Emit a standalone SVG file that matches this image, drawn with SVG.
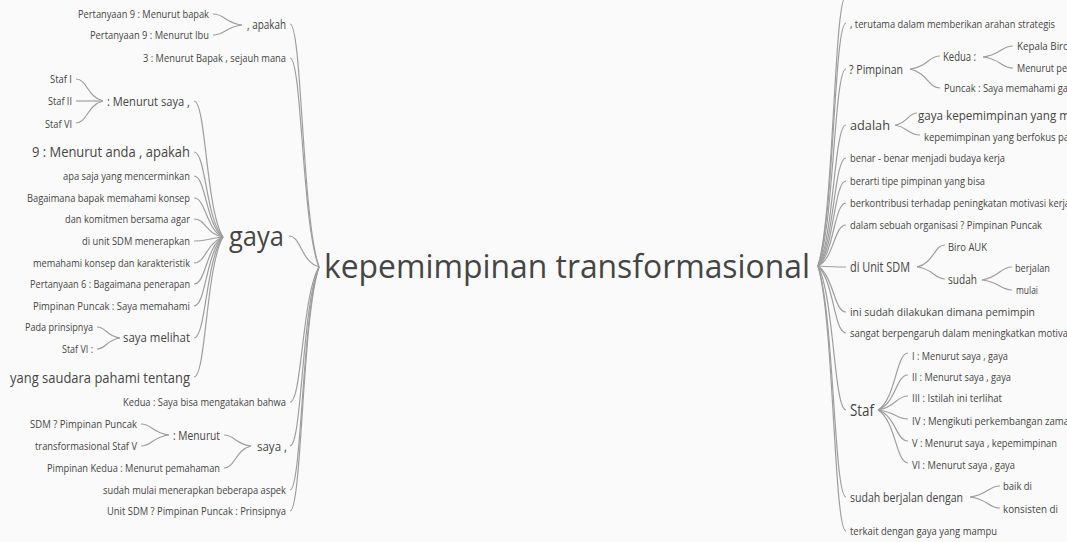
<svg xmlns="http://www.w3.org/2000/svg" width="1067" height="542" viewBox="0 0 1067 542">
<style>
.t{font-family:"Open Sans","Noto Sans",sans-serif;fill:#454545}
.e{text-anchor:end}
.s11{font-size:11px}.s12{font-size:12px}.s13{font-size:13px}.s14{font-size:14px}.s15{font-size:15px}.s16{font-size:16px}
.c{fill:none;stroke:#9e9e9e;stroke-width:1.2}
</style>
<rect width="1067" height="542" fill="#fafafa"/>
<g id="connectors">
<!-- left root -->
<path class="c" d="M319,267 C302,219 302,24 290,24"/>
<path class="c" d="M319,267 C302,226 302,58 290,58"/>
<path class="c" d="M319,267 C301,262 301,236 289,236"/>
<path class="c" d="M319,267 C302,295 302,402 290,402"/>
<path class="c" d="M319,267 C302,304 302,446 290,446"/>
<path class="c" d="M319,267 C302,312 302,490 290,490"/>
<path class="c" d="M319,267 C302,317 302,511 290,511"/>
<!-- gaya -->
<path class="c" d="M223,237 C206,211 206,101 194,101"/>
<path class="c" d="M223,237 C206,221 206,152 194,152"/>
<path class="c" d="M223,237 C206,226 206,176 194,176"/>
<path class="c" d="M223,237 C206,230 206,198 194,198"/>
<path class="c" d="M223,237 C206,234 206,219 194,219"/>
<path class="c" d="M223,237 C206,239 206,241 194,241"/>
<path class="c" d="M223,237 C206,243 206,263 194,263"/>
<path class="c" d="M223,237 C206,247 206,284 194,284"/>
<path class="c" d="M223,237 C206,252 206,306 194,306"/>
<path class="c" d="M223,237 C206,258 206,338 194,338"/>
<path class="c" d="M223,237 C206,266 206,377 194,377"/>
<!-- , apakah -->
<path class="c" d="M242,25 C225,23 225,14 213,14"/>
<path class="c" d="M242,25 C225,27 225,35 213,35"/>
<!-- : Menurut saya , -->
<path class="c" d="M103,101 C87,97 87,79 76,79"/>
<path class="c" d="M103,101 L76,101"/>
<path class="c" d="M103,101 C87,105 87,123 76,123"/>
<!-- saya melihat -->
<path class="c" d="M120,338 C106,336 106,327 97,327"/>
<path class="c" d="M120,338 C106,340 106,349 97,349"/>
<!-- saya , -->
<path class="c" d="M251,446 C235,444 235,435 224,435"/>
<path class="c" d="M251,446 C235,450 235,468 224,468"/>
<!-- : Menurut -->
<path class="c" d="M169,435 C152,433 152,424 141,424"/>
<path class="c" d="M169,435 C152,437 152,446 141,446"/>
<!-- right root -->
<path class="c" d="M818,266 C834,214 834,-4 846,-4"/>
<path class="c" d="M818,266 C834,219 834,23 846,23"/>
<path class="c" d="M818,266 C834,228 834,69 846,69"/>
<path class="c" d="M818,266 C834,239 834,125 846,125"/>
<path class="c" d="M818,266 C834,246 834,158 846,158"/>
<path class="c" d="M818,266 C834,251 834,181 846,181"/>
<path class="c" d="M818,266 C834,255 834,203 846,203"/>
<path class="c" d="M818,266 C834,259 834,225 846,225"/>
<path class="c" d="M818,266 C834,267 834,267 846,267"/>
<path class="c" d="M818,266 C834,277 834,312 846,312"/>
<path class="c" d="M818,266 C834,281 834,333 846,333"/>
<path class="c" d="M818,266 C834,296 834,410 846,410"/>
<path class="c" d="M818,266 C834,314 834,497 846,497"/>
<path class="c" d="M818,266 C834,321 834,531 846,531"/>
<!-- ? Pimpinan -->
<path class="c" d="M910,69 C928,67 928,56 940,56"/>
<path class="c" d="M910,69 C928,73 928,88 940,88"/>
<!-- Kedua : -->
<path class="c" d="M983,57 C1001,55 1001,46 1013,46"/>
<path class="c" d="M983,57 C1001,59 1001,68 1013,68"/>
<!-- adalah -->
<path class="c" d="M895,125 C908,123 908,113 917,113"/>
<path class="c" d="M895,125 C908,127 908,135 920,135"/>
<!-- di Unit SDM -->
<path class="c" d="M917,267 C934,263 934,245 945,245"/>
<path class="c" d="M917,267 C934,269 934,279 945,279"/>
<!-- sudah -->
<path class="c" d="M982,280 C1000,277 1000,267 1012,267"/>
<path class="c" d="M982,280 C1000,282 1000,290 1012,290"/>
<!-- Staf -->
<path class="c" d="M878,410 C896,399 896,353 908,353"/>
<path class="c" d="M878,410 C896,403 896,375 908,375"/>
<path class="c" d="M878,410 C896,407 896,396 908,396"/>
<path class="c" d="M878,410 C896,412 896,419 908,419"/>
<path class="c" d="M878,410 C896,416 896,441 908,441"/>
<path class="c" d="M878,410 C896,421 896,463 908,463"/>
<!-- sudah berjalan dengan -->
<path class="c" d="M970,497 C988,495 988,486 1000,486"/>
<path class="c" d="M970,497 C988,499 988,508 1000,508"/>
</g>
<g id="root"><text class="t" x="324" y="278" font-size="32" textLength="486" lengthAdjust="spacingAndGlyphs" fill="#3a3a3a">kepemimpinan transformasional</text></g>
<!-- left side -->
<g id="n-apakah"><text class="t e s12" x="286" y="29" textLength="39" lengthAdjust="spacingAndGlyphs">, apakah</text></g>
<g id="n-p9-bapak"><text class="t e s11" x="209" y="18" textLength="131" lengthAdjust="spacingAndGlyphs">Pertanyaan 9 : Menurut bapak</text></g>
<g id="n-p9-ibu"><text class="t e s11" x="209" y="39" textLength="119" lengthAdjust="spacingAndGlyphs">Pertanyaan 9 : Menurut Ibu</text></g>
<g id="n-sejauh"><text class="t e s11" x="286" y="62" textLength="143" lengthAdjust="spacingAndGlyphs">3 : Menurut Bapak , sejauh mana</text></g>
<g id="n-staf1"><text class="t e s11" x="72" y="83" textLength="22" lengthAdjust="spacingAndGlyphs">Staf I</text></g>
<g id="n-staf2"><text class="t e s11" x="72" y="105" textLength="24" lengthAdjust="spacingAndGlyphs">Staf II</text></g>
<g id="n-staf6"><text class="t e s11" x="72" y="128" textLength="27" lengthAdjust="spacingAndGlyphs">Staf VI</text></g>
<g id="n-menurut-saya"><text class="t e s13" x="190" y="106" textLength="83" lengthAdjust="spacingAndGlyphs">: Menurut saya ,</text></g>
<g id="n-gaya"><text class="t e" x="284" y="246" font-size="28" textLength="55" lengthAdjust="spacingAndGlyphs">gaya</text></g>
<g id="n-anda"><text class="t e s15" x="190" y="157" textLength="158" lengthAdjust="spacingAndGlyphs">9 : Menurut anda , apakah</text></g>
<g id="n-apa-saja"><text class="t e s11" x="190" y="180" textLength="127" lengthAdjust="spacingAndGlyphs">apa saja yang mencerminkan</text></g>
<g id="n-bagaimana"><text class="t e s11" x="190" y="202" textLength="163" lengthAdjust="spacingAndGlyphs">Bagaimana bapak memahami konsep</text></g>
<g id="n-komitmen"><text class="t e s11" x="190" y="223" textLength="125" lengthAdjust="spacingAndGlyphs">dan komitmen bersama agar</text></g>
<g id="n-unit-sdm"><text class="t e s11" x="190" y="245" textLength="108" lengthAdjust="spacingAndGlyphs">di unit SDM menerapkan</text></g>
<g id="n-memahami"><text class="t e s11" x="190" y="267" textLength="157" lengthAdjust="spacingAndGlyphs">memahami konsep dan karakteristik</text></g>
<g id="n-p6"><text class="t e s11" x="190" y="288" textLength="160" lengthAdjust="spacingAndGlyphs">Pertanyaan 6 : Bagaimana penerapan</text></g>
<g id="n-pp-saya"><text class="t e s11" x="190" y="310" textLength="157" lengthAdjust="spacingAndGlyphs">Pimpinan Puncak : Saya memahami</text></g>
<g id="n-saya-melihat"><text class="t e s12" x="190" y="342" textLength="67" lengthAdjust="spacingAndGlyphs">saya melihat</text></g>
<g id="n-pada"><text class="t e s11" x="93" y="331" textLength="68" lengthAdjust="spacingAndGlyphs">Pada prinsipnya</text></g>
<g id="n-staf6b"><text class="t e s11" x="93" y="353" textLength="31" lengthAdjust="spacingAndGlyphs">Staf VI :</text></g>
<g id="n-saudara"><text class="t e s15" x="190" y="383" textLength="180" lengthAdjust="spacingAndGlyphs">yang saudara pahami tentang</text></g>
<g id="n-kedua-bahwa"><text class="t e s11" x="286" y="406" textLength="163" lengthAdjust="spacingAndGlyphs">Kedua : Saya bisa mengatakan bahwa</text></g>
<g id="n-saya-c"><text class="t e s13" x="287" y="451" textLength="30" lengthAdjust="spacingAndGlyphs">saya ,</text></g>
<g id="n-menurut"><text class="t e s12" x="220" y="440" textLength="47" lengthAdjust="spacingAndGlyphs">: Menurut</text></g>
<g id="n-sdm-pp"><text class="t e s11" x="137" y="428" textLength="107" lengthAdjust="spacingAndGlyphs">SDM ? Pimpinan Puncak</text></g>
<g id="n-staf5"><text class="t e s11" x="137" y="450" textLength="102" lengthAdjust="spacingAndGlyphs">transformasional Staf V</text></g>
<g id="n-pk"><text class="t e s11" x="220" y="472" textLength="173" lengthAdjust="spacingAndGlyphs">Pimpinan Kedua : Menurut pemahaman</text></g>
<g id="n-aspek"><text class="t e s11" x="286" y="494" textLength="183" lengthAdjust="spacingAndGlyphs">sudah mulai menerapkan beberapa aspek</text></g>
<g id="n-prinsipnya"><text class="t e s11" x="286" y="515" textLength="179" lengthAdjust="spacingAndGlyphs">Unit SDM ? Pimpinan Puncak : Prinsipnya</text></g>
<!-- right side -->
<g id="n-terutama"><text class="t s11" x="850" y="28" textLength="205" lengthAdjust="spacingAndGlyphs">, terutama dalam memberikan arahan strategis</text></g>
<g id="n-pimpinan"><text class="t s13" x="849" y="74" textLength="54" lengthAdjust="spacingAndGlyphs">? Pimpinan</text></g>
<g id="n-kedua"><text class="t s12" x="943" y="61" textLength="33" lengthAdjust="spacingAndGlyphs">Kedua :</text></g>
<g id="n-kepala"><text class="t s11" x="1017" y="50" textLength="52" lengthAdjust="spacingAndGlyphs">Kepala Biro</text></g>
<g id="n-menurut-pe"><text class="t s11" x="1017" y="72" textLength="50" lengthAdjust="spacingAndGlyphs">Menurut pe</text></g>
<g id="n-puncak"><text class="t s11" x="944" y="92" textLength="124" lengthAdjust="spacingAndGlyphs">Puncak : Saya memahami ga</text></g>
<g id="n-adalah"><text class="t s13" x="850" y="130" textLength="40" lengthAdjust="spacingAndGlyphs">adalah</text></g>
<g id="n-gaya-kep"><text class="t s13" x="918" y="120" textLength="152" lengthAdjust="spacingAndGlyphs">gaya kepemimpinan yang m</text></g>
<g id="n-berfokus"><text class="t s11" x="924" y="141" textLength="145" lengthAdjust="spacingAndGlyphs">kepemimpinan yang berfokus pa</text></g>
<g id="n-budaya"><text class="t s11" x="850" y="162" textLength="155" lengthAdjust="spacingAndGlyphs">benar - benar menjadi budaya kerja</text></g>
<g id="n-berarti"><text class="t s11" x="850" y="185" textLength="135" lengthAdjust="spacingAndGlyphs">berarti tipe pimpinan yang bisa</text></g>
<g id="n-kontribusi"><text class="t s11" x="850" y="207" textLength="220" lengthAdjust="spacingAndGlyphs">berkontribusi terhadap peningkatan motivasi kerja</text></g>
<g id="n-organisasi"><text class="t s11" x="850" y="229" textLength="192" lengthAdjust="spacingAndGlyphs">dalam sebuah organisasi ? Pimpinan Puncak</text></g>
<g id="n-di-unit"><text class="t s14" x="850" y="272" textLength="60" lengthAdjust="spacingAndGlyphs">di Unit SDM</text></g>
<g id="n-biro"><text class="t s11" x="948" y="251" textLength="39" lengthAdjust="spacingAndGlyphs">Biro AUK</text></g>
<g id="n-sudah"><text class="t s12" x="948" y="284" textLength="29" lengthAdjust="spacingAndGlyphs">sudah</text></g>
<g id="n-berjalan"><text class="t s11" x="1015" y="272" textLength="35" lengthAdjust="spacingAndGlyphs">berjalan</text></g>
<g id="n-mulai"><text class="t s11" x="1016" y="294" textLength="22" lengthAdjust="spacingAndGlyphs">mulai</text></g>
<g id="n-dilakukan"><text class="t s11" x="850" y="316" textLength="185" lengthAdjust="spacingAndGlyphs">ini sudah dilakukan dimana pemimpin</text></g>
<g id="n-sangat"><text class="t s11" x="850" y="337" textLength="218" lengthAdjust="spacingAndGlyphs">sangat berpengaruh dalam meningkatkan motiva</text></g>
<g id="n-staf"><text class="t s16" x="850" y="416" textLength="24" lengthAdjust="spacingAndGlyphs">Staf</text></g>
<g id="n-s1"><text class="t s11" x="912" y="360" textLength="96" lengthAdjust="spacingAndGlyphs">I : Menurut saya , gaya</text></g>
<g id="n-s2"><text class="t s11" x="912" y="381" textLength="99" lengthAdjust="spacingAndGlyphs">II : Menurut saya , gaya</text></g>
<g id="n-s3"><text class="t s11" x="912" y="402" textLength="90" lengthAdjust="spacingAndGlyphs">III : Istilah ini terlihat</text></g>
<g id="n-s4"><text class="t s11" x="912" y="425" textLength="157" lengthAdjust="spacingAndGlyphs">IV : Mengikuti perkembangan zama</text></g>
<g id="n-s5"><text class="t s11" x="912" y="447" textLength="145" lengthAdjust="spacingAndGlyphs">V : Menurut saya , kepemimpinan</text></g>
<g id="n-s6"><text class="t s11" x="912" y="469" textLength="103" lengthAdjust="spacingAndGlyphs">VI : Menurut saya , gaya</text></g>
<g id="n-dengan"><text class="t s13" x="850" y="502" textLength="113" lengthAdjust="spacingAndGlyphs">sudah berjalan dengan</text></g>
<g id="n-baik"><text class="t s11" x="1003" y="490" textLength="29" lengthAdjust="spacingAndGlyphs">baik di</text></g>
<g id="n-konsisten"><text class="t s11" x="1003" y="513" textLength="55" lengthAdjust="spacingAndGlyphs">konsisten di</text></g>
<g id="n-terkait"><text class="t s11" x="850" y="535" textLength="147" lengthAdjust="spacingAndGlyphs">terkait dengan gaya yang mampu</text></g>
</svg>
